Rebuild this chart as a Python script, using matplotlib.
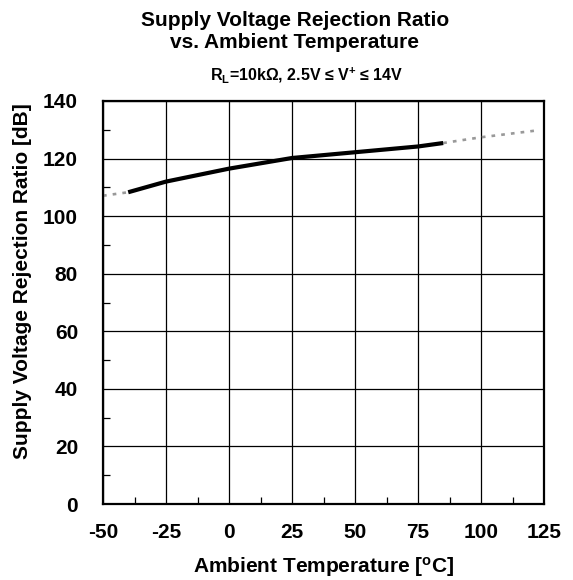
import matplotlib
matplotlib.use('Agg')
import matplotlib.pyplot as plt
from matplotlib.ticker import MultipleLocator

plt.rcParams['font.family'] = ['Liberation Sans', 'DejaVu Sans']
plt.rcParams['font.weight'] = 'bold'
plt.rcParams['axes.unicode_minus'] = False
plt.rcParams['mathtext.fontset'] = 'custom'
plt.rcParams['mathtext.rm'] = 'Liberation Sans:bold'
plt.rcParams['mathtext.bf'] = 'Liberation Sans:bold'
plt.rcParams['mathtext.it'] = 'Liberation Sans:bold'

# measured range (solid)
temp = [-40, -25, 0, 25, 50, 75, 85]
svrr = [108.3, 112.0, 116.5, 120.2, 122.2, 124.2, 125.4]

# extrapolated (dotted)
temp_lo = [-50, -40]
svrr_lo = [107.1, 108.3]
temp_hi = [85, 100, 122.5]
svrr_hi = [125.4, 127.4, 129.8]

xticks = [-50, -25, 0, 25, 50, 75, 100, 125]
yticks = [0, 20, 40, 60, 80, 100, 120, 140]

fig = plt.figure(figsize=(5.73, 5.80), dpi=100)
ax = fig.add_axes([103/573, 1-504/580, (544-103)/573, (504-101)/580])

ax.plot(temp_lo, svrr_lo, color='#999999', lw=1.9, linestyle=(0, (1.4, 2.3)))
ax.plot(temp_hi, svrr_hi, color='#999999', lw=1.9, linestyle=(0, (1.4, 2.3)))
ax.plot(temp, svrr, color='black', lw=3, solid_capstyle='butt')

ax.set_xlim(-50, 125)
ax.set_ylim(0, 140)
ax.set_xticks(xticks)
ax.set_yticks(yticks)
ax.xaxis.set_minor_locator(MultipleLocator(12.5))
ax.yaxis.set_minor_locator(MultipleLocator(10))
ax.grid(True, which='major', color='black', lw=0.9)
ax.tick_params(which='major', length=0, labelsize=15)
ax.tick_params(axis='y', which='major', pad=18)
ax.tick_params(axis='x', which='major', pad=14)
ax.tick_params(which='minor', direction='in', length=5, width=0.9)
for s in ax.spines.values():
    s.set_linewidth(1.6)

ax.set_xlabel(r'Ambient Temperature [$^\mathrm{o}$C]', fontsize=15, fontweight='bold')
ax.xaxis.label.set_va('baseline')
ax.xaxis.set_label_coords(0.501, -0.171)
ax.set_ylabel('Supply Voltage Rejection Ratio [dB]', fontsize=15, fontweight='bold')
ax.yaxis.set_label_coords(-0.161, 0.553)

fig.text(295/573, 1-26/580, 'Supply Voltage Rejection Ratio', ha='center', va='baseline',
         fontsize=15, fontweight='bold')
fig.text(295/573, 1-48/580, 'vs. Ambient Temperature', ha='center', va='baseline',
         fontsize=15, fontweight='bold')
fig.text(307/573, 1-80/580, r'R$_\mathrm{L}$=10kΩ, 2.5V ≤ V$^\mathrm{+}$ ≤ 14V', ha='center', va='baseline',
         fontsize=11.5, fontweight='bold')

fig.savefig('out.png', dpi=100)
